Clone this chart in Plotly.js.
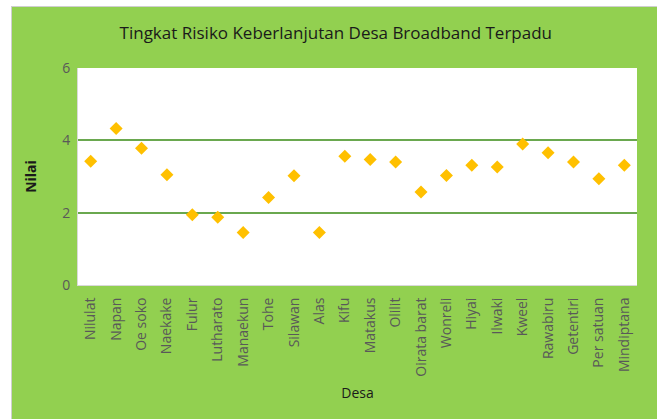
<!DOCTYPE html>
<html>
<head>
<meta charset="utf-8">
<script src="https://cdn.plot.ly/plotly-3.0.1.min.js"></script>
<style>
  html, body { margin: 0; padding: 0; background: #ffffff; }
  #frame { position: absolute; left: 11px; top: 6px; border-left: 1px solid #cfcfcf; border-top: 1px solid #cfcfcf; }
  #chart { width: 645px; height: 412px; }
</style>
</head>
<body>
<div id="frame"><div id="chart"></div></div>
<script>
const desa = ["Nilulat","Napan","Oe soko","Naekake","Fulur","Lutharato","Manaekun","Tohe","Silawan","Alas","Kifu","Matakus","Olilit","Oirata barat","Wonreli","Hiyai","Ilwaki","Kweel","Rawabiru","Getentiri","Per satuan","Mindiptana"];
const nilai = [3.42, 4.33, 3.78, 3.05, 1.94, 1.87, 1.45, 2.42, 3.02, 1.45, 3.56, 3.47, 3.40, 2.57, 3.03, 3.31, 3.26, 3.90, 3.66, 3.40, 2.94, 3.31];
const yTicks = [0, 2, 4, 6];

const trace = {
  x: desa,
  y: nilai,
  type: 'scatter',
  mode: 'markers',
  marker: { symbol: 'diamond', size: 10, color: '#FFC000' },
  hoverinfo: 'x+y'
};

const layout = {
  width: 645,
  height: 412,
  paper_bgcolor: '#92D050',
  plot_bgcolor: '#ffffff',
  margin: { l: 66, r: 20, t: 61, b: 134 },
  showlegend: false,
  font: { family: 'Open Sans, sans-serif', color: '#595959' },
  title: {
    text: 'Tingkat Risiko Keberlanjutan Desa Broadband Terpadu',
    font: { family: 'Open Sans, sans-serif', size: 17, color: '#1a1a1a' },
    x: 0.502, xanchor: 'center', y: 0.937, yanchor: 'middle'
  },
  xaxis: {
    type: 'category',
    range: [-0.5, desa.length - 0.5],
    tickangle: -90,
    tickfont: { size: 14, color: '#595959' },
    showgrid: false,
    showline: true, linecolor: '#d9d9d9', linewidth: 1,
    ticks: 'outside', ticklen: 6, tickcolor: 'rgba(0,0,0,0)',
    title: { text: 'Desa', font: { size: 14, color: '#1a1a1a' }, standoff: 12 },
    fixedrange: true
  },
  yaxis: {
    range: [0, 6],
    tickvals: yTicks,
    ticktext: yTicks.map(String),
    tickfont: { size: 14, color: '#595959' },
    showgrid: true, gridcolor: '#6aa84f', gridwidth: 2,
    zeroline: false,
    showline: true, linecolor: '#d9d9d9', linewidth: 1,
    ticks: 'outside', ticklen: 4, tickcolor: 'rgba(0,0,0,0)',
    title: { text: '<b>Nilai</b>', font: { size: 14, color: '#1a1a1a' }, standoff: 22 },
    fixedrange: true
  }
};

Plotly.newPlot('chart', [trace], layout, { displayModeBar: false, staticPlot: true });
</script>
</body>
</html>
